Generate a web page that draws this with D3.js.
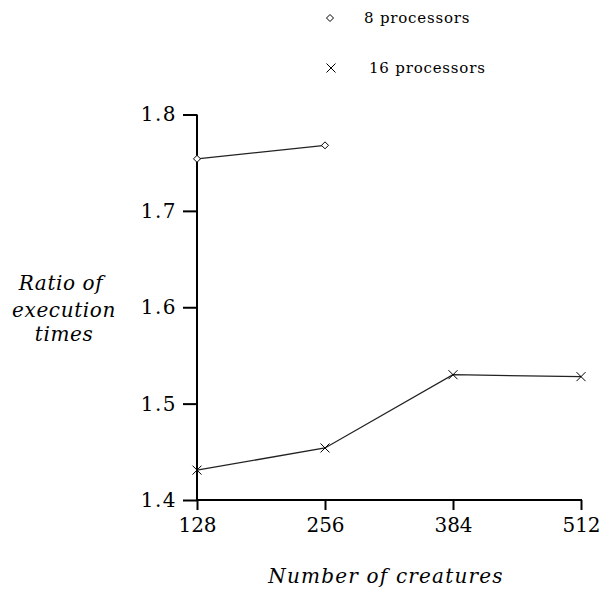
<!DOCTYPE html>
<html>
<head>
<meta charset="utf-8">
<script src="https://cdn.jsdelivr.net/npm/d3@7"></script>
<style>
body { margin:0; background:#fff; }
text { font-family: "DejaVu Serif", "Liberation Serif", serif; }
</style>
</head>
<body>
<div id="chartID"></div>
<script>
//x values (number of creatures)
var creatures = [128, 256, 384, 512];
//ratio of execution times for each series
var procs8 = [1.754, 1.768];
var procs16 = [1.431, 1.454, 1.530, 1.528];
//tick labels
var yTicks = [1.4, 1.5, 1.6, 1.7, 1.8];
var seriesNames = ["8 processors", "16 processors"];

var width = 603, height = 592;

var svg = d3.select("#chartID").append("svg")
    .attr("width", width)
    .attr("height", height);

//scales
var xScale = d3.scaleLinear().domain([128, 512]).range([197, 581]);
var yScale = d3.scaleLinear().domain([1.4, 1.8]).range([500, 114.5]);

//y axis
var yAxis = d3.axisLeft(yScale).tickValues(yTicks).tickFormat(d3.format(".1f")).tickSize(14).tickPadding(6);
var gy = svg.append("g").attr("transform", "translate(197,0)").call(yAxis);
gy.select(".domain").remove();
gy.selectAll("line").attr("stroke", "#000").attr("stroke-width", 2);
gy.selectAll("text").attr("font-size", 20).attr("fill", "#000").attr("letter-spacing", 1.5);

//x axis
var xAxis = d3.axisBottom(xScale).tickValues(creatures).tickSize(10).tickPadding(8);
var gx = svg.append("g").attr("transform", "translate(0,500)").call(xAxis);
gx.select(".domain").remove();
gx.selectAll("line").attr("stroke", "#000").attr("stroke-width", 2);
gx.selectAll("text").attr("font-size", 20).attr("fill", "#000");

//axis lines
svg.append("line").attr("x1", 197).attr("x2", 197)
    .attr("y1", yScale(1.8)).attr("y2", 501)
    .attr("stroke", "#000").attr("stroke-width", 2);
svg.append("line").attr("x1", 196).attr("x2", xScale(512) + 1)
    .attr("y1", 500).attr("y2", 500)
    .attr("stroke", "#000").attr("stroke-width", 2);

var line = d3.line()
    .x(function(d) { return xScale(d[0]); })
    .y(function(d) { return yScale(d[1]); });

var data8 = procs8.map(function(v, i) { return [creatures[i], v]; });
var data16 = procs16.map(function(v, i) { return [creatures[i], v]; });

svg.append("path").datum(data8).attr("d", line)
    .attr("fill", "none").attr("stroke", "#222").attr("stroke-width", 1.3);
svg.append("path").datum(data16).attr("d", line)
    .attr("fill", "none").attr("stroke", "#222").attr("stroke-width", 1.3);

//markers
var diamond = function(x, y) {
  var s = 3.5;
  return "M" + x + "," + (y - s) + "L" + (x + s) + "," + y + "L" + x + "," + (y + s) + "L" + (x - s) + "," + y + "Z";
};
var cross = function(x, y) {
  var s = 4.5;
  return "M" + (x - s) + "," + (y - s) + "L" + (x + s) + "," + (y + s) +
    "M" + (x - s) + "," + (y + s) + "L" + (x + s) + "," + (y - s);
};

svg.selectAll(".m8").data(data8).enter().append("path")
    .attr("class", "m8")
    .attr("d", function(d) { return diamond(xScale(d[0]), yScale(d[1])); })
    .attr("fill", "#fff").attr("stroke", "#000").attr("stroke-width", 1);
svg.selectAll(".m16").data(data16).enter().append("path")
    .attr("class", "m16")
    .attr("d", function(d) { return cross(xScale(d[0]), yScale(d[1])); })
    .attr("fill", "none").attr("stroke", "#000").attr("stroke-width", 1);

//legend
svg.append("path").attr("d", diamond(330, 18))
    .attr("fill", "#fff").attr("stroke", "#000").attr("stroke-width", 1);
svg.append("text").attr("x", 364).attr("y", 23).attr("font-size", 15)
    .attr("letter-spacing", 0.8).text(seriesNames[0]);
svg.append("path").attr("d", cross(331, 68))
    .attr("fill", "none").attr("stroke", "#000").attr("stroke-width", 1);
svg.append("text").attr("x", 369).attr("y", 73).attr("font-size", 15)
    .attr("letter-spacing", 0.8).text(seriesNames[1]);

//axis titles
var ylab = svg.append("text").attr("font-size", 20).attr("font-style", "italic")
    .attr("text-anchor", "middle").attr("letter-spacing", 0.6);
ylab.append("tspan").attr("x", 61).attr("y", 290).text("Ratio of");
ylab.append("tspan").attr("x", 64).attr("y", 317).text("execution");
ylab.append("tspan").attr("x", 64).attr("y", 341).text("times");

svg.append("text").attr("x", 386).attr("y", 583).attr("font-size", 20)
    .attr("font-style", "italic").attr("text-anchor", "middle")
    .attr("letter-spacing", 1.2)
    .text("Number of creatures");
</script>
</body>
</html>
